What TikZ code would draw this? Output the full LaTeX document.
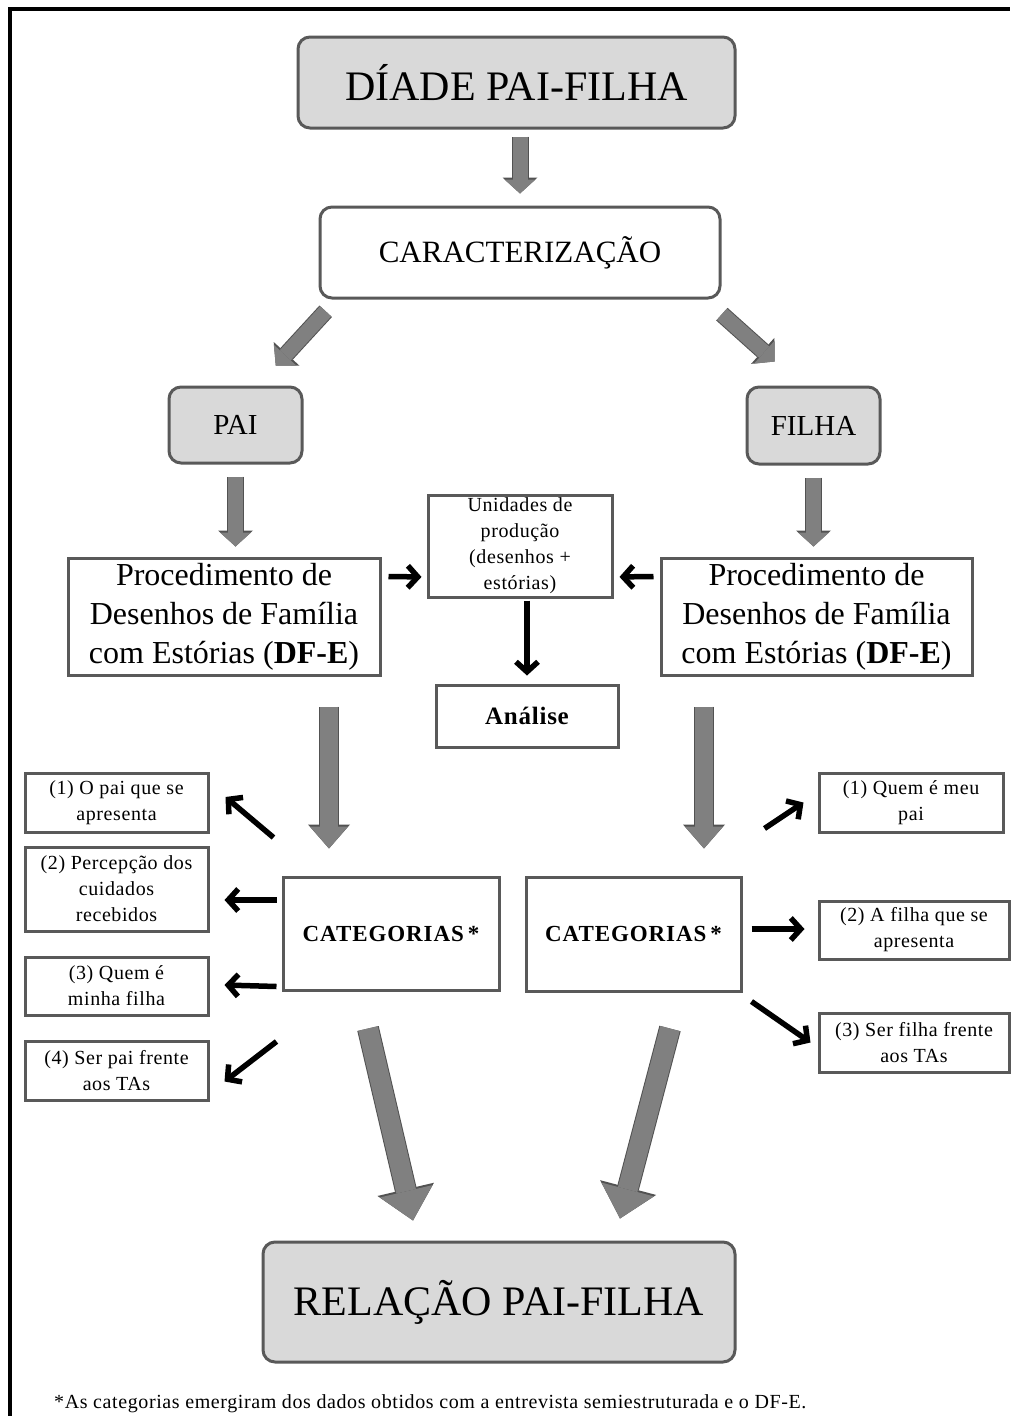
\documentclass[tikz,border=0pt]{standalone}
\usepackage{fontspec}
\setmainfont{Liberation Serif}
\usepackage{tikz}
\usetikzlibrary{arrows.meta}
\definecolor{dfeFill}{RGB}{217,217,217}
\definecolor{dfeEdge}{RGB}{89,89,89}
\definecolor{dfeArrow}{RGB}{128,128,128}
\definecolor{dfeArrowEdge}{RGB}{82,82,82}

\begin{document}
\begin{tikzpicture}[
  x=1pt, y=-1pt,
  roundbox/.style={rounded corners=12pt, draw=dfeEdge, line width=3pt, fill=dfeFill, align=center, inner sep=0pt},
  plainbox/.style={draw=dfeEdge, line width=3pt, fill=white, align=center, inner sep=0pt},
  catbox/.style={plainbox, font=\fontsize{20}{26}\selectfont\addfontfeatures{LetterSpace=3}},
  catlabel/.style={plainbox, font=\fontsize{23}{26}\selectfont\bfseries\addfontfeatures{LetterSpace=4}},
  blockarrow/.style={draw=dfeArrow, line width=15pt, -{Triangle[width=31pt,length=14pt,line width=0pt]},
    preaction={draw=dfeArrowEdge, line width=17pt, -{Triangle[width=35pt,length=16pt,line width=0pt]}}},
  widearrow/.style={draw=dfeArrow, line width=18pt, -{Triangle[width=38pt,length=22pt,line width=0pt]},
    preaction={draw=dfeArrowEdge, line width=20pt, -{Triangle[width=42pt,length=24pt,line width=0pt]}}},
  hugearrow/.style={draw=dfeArrow, line width=20pt, -{Triangle[width=54pt,length=30pt,line width=0pt]},
    preaction={draw=dfeArrowEdge, line width=22pt, -{Triangle[width=58pt,length=32pt,line width=0pt]}}},
  blackarrow/.style={draw=black, line width=5.5pt, -{Straight Barb[length=10pt,width=22pt]}}
]
\useasboundingbox (0,0) rectangle (1010,1416);
\draw[line width=4pt] (10,1416) -- (10,9) -- (1010,9);

\node[roundbox, minimum width=437pt, minimum height=91pt, font=\fontsize{42}{50}\selectfont] (dyad) at (516.5,82.5) {DÍADE PAI-FILHA};
\node[roundbox, fill=white, minimum width=400pt, minimum height=91pt, font=\fontsize{31}{37}\selectfont] (carac) at (520,252.5) {CARACTERIZAÇÃO};

\node[roundbox, minimum width=133pt, minimum height=76pt, font=\fontsize{29}{35}\selectfont] (pai) at (235.5,425) {PAI};
\node[roundbox, minimum width=133pt, minimum height=77pt, font=\fontsize{29}{35}\selectfont] (filha) at (813.5,425.5) {FILHA};

\node[plainbox, minimum width=312pt, minimum height=117pt, font=\fontsize{32}{39}\selectfont] (procL) at (224,616.5) {Procedimento de\\ Desenhos de Família\\ com Estórias (\textbf{DF-E})};
\node[plainbox, minimum width=311pt, minimum height=117pt, font=\fontsize{32}{39}\selectfont] (procR) at (816.5,616.5) {Procedimento de\\ Desenhos de Família\\ com Estórias (\textbf{DF-E})};

\node[catbox, minimum width=184pt, minimum height=102pt] (unid) at (520,546) {Unidades de\\ produção\\ (desenhos +\\ estórias)};
\node[plainbox, minimum width=182pt, minimum height=62pt, font=\fontsize{25}{29}\selectfont\bfseries\addfontfeatures{LetterSpace=3}] (analise) at (527,716) {Análise};

\node[catlabel, minimum width=216pt, minimum height=113pt] (catL) at (391,933.5) {CATEGORIAS\,*};
\node[catlabel, minimum width=215pt, minimum height=114pt] (catR) at (633.5,934) {CATEGORIAS\,*};

\node[catbox, minimum width=183pt, minimum height=59pt] (pL1) at (116.5,802.5) {(1) O pai que se\\ apresenta};
\node[catbox, minimum width=183pt, minimum height=84pt] (pL2) at (116.5,889) {(2) Percepção dos\\ cuidados\\ recebidos};
\node[catbox, minimum width=183pt, minimum height=58pt] (pL3) at (116.5,986) {(3) Quem é\\ minha filha};
\node[catbox, minimum width=183pt, minimum height=59pt] (pL4) at (116.5,1070.5) {(4) Ser pai frente\\ aos TAs};

\node[catbox, minimum width=184pt, minimum height=59pt] (pR1) at (911,802.5) {(1) Quem é meu\\ pai};
\node[catbox, minimum width=190pt, minimum height=58pt] (pR2) at (914,930) {(2) A filha que se\\ apresenta};
\node[catbox, minimum width=190pt, minimum height=59pt] (pR3) at (914,1042.5) {(3) Ser filha frente\\ aos TAs};

\node[roundbox, minimum width=472pt, minimum height=120pt, font=\fontsize{42}{50}\selectfont] (rel) at (499,1302) {RELAÇÃO PAI-FILHA};

\node[anchor=west, inner sep=0pt, font=\fontsize{20}{23}\selectfont\addfontfeatures{LetterSpace=3}] (nota) at (54,1404) {*As categorias emergiram dos dados obtidos com a entrevista semiestruturada e o DF-E.};

\draw[blockarrow, shorten <=7pt, shorten >=12pt] (dyad.south -| carac.north) -- (carac.north);
\draw[blockarrow, shorten <=16pt, shorten >=27pt] ([xshift=18pt]carac.south west) -- ([xshift=22pt]pai.north);
\draw[blockarrow, shorten <=22pt, shorten >=36pt] ([xshift=-16pt]carac.south east) -- ([xshift=-12pt]filha.north);
\draw[blockarrow, shorten <=12pt, shorten >=10pt] (pai.south) -- (pai.south |- procL.north);
\draw[blockarrow, shorten <=12pt, shorten >=10pt] (filha.south) -- (filha.south |- procR.north);

\draw[blackarrow, shorten >=5pt] ([shift={(7,-40)}]procL.east) -- ([shift={(0,31)}]unid.west);
\draw[blackarrow, shorten >=6pt] ([shift={(-6,-40)}]procR.west) -- ([shift={(0,31)}]unid.east);
\draw[blackarrow, shorten <=2pt, shorten >=8pt] (unid.south -| analise.north) -- (analise.north);

\draw[widearrow, shorten <=30pt, shorten >=27pt] ([xshift=105pt]procL.south) -- ([xshift=-62pt]catL.north);
\draw[widearrow, shorten <=30pt, shorten >=27pt] ([xshift=-112.5pt]procR.south) -- ([xshift=70.5pt]catR.north);

\draw[blackarrow] ([shift={(-8,-38)}]catL.north west) -- ([shift={(16,-5.5)}]pL1.east);
\draw[blackarrow] ([shift={(-5,-33.5)}]catL.west) -- ([shift={(15,11)}]pL2.east);
\draw[blackarrow] ([shift={(-5,-5)}]catL.south west) -- ([shift={(15,-1)}]pL3.east);
\draw[blackarrow] ([shift={(-5,50)}]catL.south west) -- ([shift={(15,42)}]pL4.north east);

\draw[blackarrow] ([shift={(22,-47)}]catR.north east) -- ([xshift=-14pt]pR1.west);
\draw[blackarrow] ([shift={(9,-5)}]catR.east) -- ([shift={(-13,-1)}]pR2.west);
\draw[blackarrow] ([shift={(9,9)}]catR.south east) -- ([xshift=-7pt]pR3.west);

\draw[hugearrow] ([shift={(-23,37)}]catL.south) -- ([shift={(-86,-20)}]rel.north);
\draw[hugearrow] ([shift={(36.5,36)}]catR.south) -- ([shift={(121,-22)}]rel.north);
\end{tikzpicture}
\end{document}
